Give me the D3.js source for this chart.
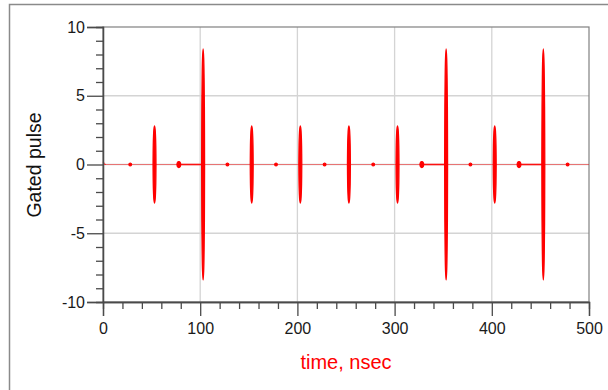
<!DOCTYPE html>
<html>
<head>
<meta charset="utf-8">
<script src="https://cdn.jsdelivr.net/npm/d3@7"></script>
<style>
  body { margin: 0; background: #fff; }
  text { font-family: "Liberation Sans", Arial, sans-serif; }
</style>
</head>
<body>
<div id="chart"></div>
<script>
// pulse centres (nsec) and peak amplitudes
var pulseTimes = [53, 103, 153, 203, 253, 303, 353, 403, 453];
var pulseAmps  = [2.8, 8.4, 2.8, 2.8, 2.8, 2.8, 8.4, 2.8, 8.4];

// small leakage blips between pulses
var blipTimes = [28, 78, 128, 178, 228, 278, 328, 378, 428, 478];
var blipAmps  = [0.1, 0.22, 0.1, 0.1, 0.1, 0.1, 0.22, 0.1, 0.22, 0.1];

// start-up transient at t = 0
var startT = [0, 0.5, 1.5, 3];
var startV = [0.2, 0.15, 0.05, 0];

// stretches where the leakage is stronger (before the big pulses)
var leakStart = [78, 328, 428];
var leakEnd   = [103, 353, 453];

// envelope of one gated burst: offset (nsec) vs relative amplitude
var shapeDt  = [-1.5, -1.3, -1.0, -0.6, 0, 0.6, 1.0, 1.3, 1.5];
var shapeRel = [0, 0.5, 0.75, 0.92, 1, 0.92, 0.75, 0.5, 0];

var xTicks = [0, 100, 200, 300, 400, 500];
var xMinor = [20, 40, 60, 80, 120, 140, 160, 180, 220, 240, 260, 280, 320, 340, 360, 380, 420, 440, 460, 480];
var yTicks = [-10, -5, 0, 5, 10];
var yMinor = [-9, -8, -7, -6, -4, -3, -2, -1, 1, 2, 3, 4, 6, 7, 8, 9];

var W = 608, H = 390;
var margin = {top: 27, right: 19, bottom: 88, left: 103};
var width = W - margin.left - margin.right,
    height = H - margin.top - margin.bottom;

var svg = d3.select("#chart").append("svg")
    .attr("width", W)
    .attr("height", H);

// outer frame of the figure
svg.append("rect")
    .attr("x", 9.5).attr("y", 4.5)
    .attr("width", 800).attr("height", 600)
    .attr("fill", "none")
    .attr("stroke", "#8a8a8a")
    .attr("stroke-width", 1.5);

var g = svg.append("g")
    .attr("transform", "translate(" + margin.left + "," + margin.top + ")");

var x = d3.scaleLinear().domain([0, 500]).range([0, width]);
var y = d3.scaleLinear().domain([-10, 10]).range([height, 0]);

// grid
g.append("g").selectAll("line")
    .data(xTicks.slice(1, -1))
    .enter().append("line")
    .attr("x1", d => x(d)).attr("x2", d => x(d))
    .attr("y1", 0).attr("y2", height)
    .attr("stroke", "#d4d4d4").attr("stroke-width", 1.3);
g.append("g").selectAll("line")
    .data(yTicks.slice(1, -1))
    .enter().append("line")
    .attr("y1", d => y(d)).attr("y2", d => y(d))
    .attr("x1", 0).attr("x2", width)
    .attr("stroke", "#d4d4d4").attr("stroke-width", 1.3);

// plot border (top / right)
g.append("rect")
    .attr("width", width).attr("height", height)
    .attr("fill", "none")
    .attr("stroke", "#808080")
    .attr("stroke-width", 1.2);

// baseline
g.append("line")
    .attr("x1", x(0)).attr("x2", x(500))
    .attr("y1", y(0)).attr("y2", y(0))
    .attr("stroke", "#ff0000").attr("stroke-opacity", 0.45)
    .attr("stroke-width", 1.2);

// start-up transient
g.append("path")
    .datum(startT.map((d, i) => [d, startV[i]]))
    .attr("d", d3.line().x(d => x(d[0])).y(d => y(d[1])).curve(d3.curveMonotoneX))
    .attr("fill", "none")
    .attr("stroke", "#ff0000").attr("stroke-opacity", 0.6)
    .attr("stroke-width", 1.2);

// stronger leakage stretches
g.append("g").selectAll("line")
    .data(leakStart)
    .enter().append("line")
    .attr("x1", d => x(d))
    .attr("x2", (d, i) => x(leakEnd[i]))
    .attr("y1", y(0)).attr("y2", y(0))
    .attr("stroke", "#ff0000").attr("stroke-opacity", 0.85)
    .attr("stroke-width", 1.6);

function burst(t0, amp, wscale) {
    var pts = shapeDt.map((d, i) => ({t: t0 + d * wscale, a: amp * shapeRel[i]}));
    return d3.area()
        .x(d => x(d.t))
        .y0(d => y(-d.a))
        .y1(d => y(d.a))
        .curve(d3.curveCatmullRom)(pts);
}

// blips
g.append("g").selectAll("path")
    .data(blipTimes)
    .enter().append("path")
    .attr("d", (d, i) => burst(d, blipAmps[i], blipAmps[i] > 0.15 ? 1.3 : 0.9))
    .attr("fill", "#ff0000")
    .attr("stroke", "#ff0000")
    .attr("stroke-width", 1.2)
    .attr("stroke-linejoin", "round");

// pulses
g.append("g").selectAll("path")
    .data(pulseTimes)
    .enter().append("path")
    .attr("d", (d, i) => burst(d, pulseAmps[i], 1))
    .attr("fill", "#ff0000")
    .attr("stroke", "#ff0000")
    .attr("stroke-width", 1.3)
    .attr("stroke-linejoin", "round");

// axes
var axisColor = "#4a4a4a";
function styleAxis(sel) {
    sel.select(".domain").attr("stroke", axisColor).attr("stroke-width", 1.3);
    sel.selectAll(".tick line").attr("stroke", axisColor).attr("stroke-width", 1.3);
    sel.selectAll("text")
        .attr("fill", "#1a1a1a")
        .style("font-size", "16px")
        .style("font-family", "'Liberation Sans', Arial, sans-serif");
}

g.append("g")
    .call(d3.axisLeft(y).tickValues(yMinor).tickSize(7).tickFormat(""))
    .call(styleAxis);
g.append("g")
    .call(d3.axisLeft(y).tickValues(yTicks).tickSize(16).tickPadding(2)
        .tickFormat(d => String(d)))
    .call(styleAxis);

g.append("g")
    .attr("transform", "translate(0," + height + ")")
    .call(d3.axisBottom(x).tickValues(xMinor).tickSize(7).tickFormat(""))
    .call(styleAxis);
g.append("g")
    .attr("transform", "translate(0," + height + ")")
    .call(d3.axisBottom(x).tickValues(xTicks).tickSize(14).tickPadding(7))
    .call(styleAxis);

// axis titles
svg.append("text")
    .attr("x", margin.left + width / 2)
    .attr("y", 369)
    .attr("text-anchor", "middle")
    .attr("fill", "#ff0000")
    .style("font-size", "20px")
    .text("time, nsec");

svg.append("text")
    .attr("transform", "translate(41,165) rotate(-90)")
    .attr("text-anchor", "middle")
    .attr("fill", "#111")
    .style("font-size", "19.5px")
    .text("Gated pulse");
</script>
</body>
</html>
